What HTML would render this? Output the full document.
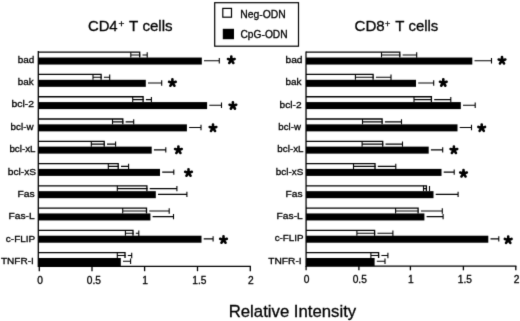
<!DOCTYPE html>
<html><head><meta charset="utf-8"><style>
html,body{margin:0;padding:0;background:#fff;}
svg{display:block;} .w{will-change:transform;width:520px;height:321px;overflow:hidden;}
text{font-family:"Liberation Sans",sans-serif;fill:#000;font-kerning:none;stroke:#000;stroke-width:0.3px;}
</style></head><body>
<div class="w"><svg width="520" height="321" viewBox="0 0 520 321">
<defs><filter id="b" color-interpolation-filters="sRGB" x="0" y="0" width="520" height="321" filterUnits="userSpaceOnUse"><feConvolveMatrix order="3" kernelMatrix="0.0114 0.084 0.0114 0.084 0.618 0.084 0.0114 0.084 0.0114" divisor="1" edgeMode="duplicate" preserveAlpha="true"/></filter></defs>
<g filter="url(#b)">
<rect x="0" y="0" width="520" height="321" fill="#fff"/>
<rect x="214.7" y="2.7" width="83.8" height="43.5" fill="none" stroke="#000" stroke-width="1.2"/>
<rect x="222.8" y="8.4" width="8.7" height="8.8" fill="#fff" stroke="#000" stroke-width="1.2"/>
<rect x="222.8" y="28.8" width="11.2" height="10.4" fill="#000"/>
<text transform="translate(87.90 30.60) scale(0.9717 1)" font-size="15.3px" stroke-width="0.45">CD4</text>
<text transform="translate(118.61 26.90) scale(1.0616 1)" font-size="9.5px" stroke-width="0.45">+</text>
<text transform="translate(128.96 30.60) scale(0.9883 1)" font-size="15.3px" stroke-width="0.45">T cells</text>
<text transform="translate(354.53 30.60) scale(0.9875 1)" font-size="15.3px" stroke-width="0.45">CD8</text>
<text transform="translate(384.97 26.50) scale(0.9316 1)" font-size="9.5px" stroke-width="0.45">+</text>
<text transform="translate(395.16 30.60) scale(0.9767 1)" font-size="15.3px" stroke-width="0.45">T cells</text>
<text transform="translate(240.35 17.70) scale(0.9966 1)" font-size="10.4px">Neg-ODN</text>
<text transform="translate(240.48 37.60) scale(1.0025 1)" font-size="10.2px">CpG-ODN</text>
<text transform="translate(228.73 316.60) scale(1.0095 1)" font-size="16.6px" stroke-width="0.5">Relative Intensity</text>
<path d="M38.30 52.20H139.70V57.55" stroke="#000" stroke-width="1.3" fill="none"/>
<path d="M130.8 55.05H140.3M130.8 52.15V57.55M147.2 52.35V57.75M142.50 55.05H147.2" stroke="#000" stroke-width="1.1" fill="none"/>
<rect x="38.30" y="57.55" width="163.50" height="7.00" fill="#000"/>
<path d="M204.00 60.75H219.3M219.3 58.05V63.45" stroke="#000" stroke-width="1.1" fill="none"/>
<path d="M231.30 60.10L231.30 56.60M231.30 60.10L234.63 59.02M231.30 60.10L233.36 62.93M231.30 60.10L229.24 62.93M231.30 60.10L227.97 59.02" stroke="#000" stroke-width="2.6" stroke-linecap="round" fill="none"/>
<path d="M38.30 74.47H101.10V79.82" stroke="#000" stroke-width="1.3" fill="none"/>
<path d="M93 77.32H101.7M93 74.42V79.82M109.7 74.62V80.02M103.90 77.32H109.7" stroke="#000" stroke-width="1.1" fill="none"/>
<rect x="38.30" y="79.82" width="107.50" height="7.00" fill="#000"/>
<path d="M148.00 83.02H161.7M161.7 80.32V85.72" stroke="#000" stroke-width="1.1" fill="none"/>
<path d="M172.40 82.90L172.40 79.40M172.40 82.90L175.73 81.82M172.40 82.90L174.46 85.73M172.40 82.90L170.34 85.73M172.40 82.90L169.07 81.82" stroke="#000" stroke-width="2.6" stroke-linecap="round" fill="none"/>
<path d="M38.30 96.74H143.10V102.09" stroke="#000" stroke-width="1.3" fill="none"/>
<path d="M132.7 99.59H143.7M132.7 96.69V102.09M151.4 96.89V102.29M145.90 99.59H151.4" stroke="#000" stroke-width="1.1" fill="none"/>
<rect x="38.30" y="102.09" width="168.80" height="7.00" fill="#000"/>
<path d="M209.30 105.29H221.5M221.5 102.59V107.99" stroke="#000" stroke-width="1.1" fill="none"/>
<path d="M232.90 105.80L232.90 102.30M232.90 105.80L236.23 104.72M232.90 105.80L234.96 108.63M232.90 105.80L230.84 108.63M232.90 105.80L229.57 104.72" stroke="#000" stroke-width="2.6" stroke-linecap="round" fill="none"/>
<path d="M38.30 119.01H122.80V124.36" stroke="#000" stroke-width="1.3" fill="none"/>
<path d="M112.5 121.86H123.4M112.5 118.96V124.36M133.7 119.16V124.56M125.60 121.86H133.7" stroke="#000" stroke-width="1.1" fill="none"/>
<rect x="38.30" y="124.36" width="148.60" height="7.00" fill="#000"/>
<path d="M189.10 127.56H201M201 124.86V130.26" stroke="#000" stroke-width="1.1" fill="none"/>
<path d="M213.00 128.10L213.00 124.60M213.00 128.10L216.33 127.02M213.00 128.10L215.06 130.93M213.00 128.10L210.94 130.93M213.00 128.10L209.67 127.02" stroke="#000" stroke-width="2.6" stroke-linecap="round" fill="none"/>
<path d="M38.30 141.28H104.20V146.63" stroke="#000" stroke-width="1.3" fill="none"/>
<path d="M91.3 144.13H104.8M91.3 141.23V146.63M115.6 141.43V146.83M107.00 144.13H115.6" stroke="#000" stroke-width="1.1" fill="none"/>
<rect x="38.30" y="146.63" width="113.40" height="7.00" fill="#000"/>
<path d="M153.90 149.83H165.8M165.8 147.13V152.53" stroke="#000" stroke-width="1.1" fill="none"/>
<path d="M178.40 150.10L178.40 146.60M178.40 150.10L181.73 149.02M178.40 150.10L180.46 152.93M178.40 150.10L176.34 152.93M178.40 150.10L175.07 149.02" stroke="#000" stroke-width="2.6" stroke-linecap="round" fill="none"/>
<path d="M38.30 163.55H118.20V168.90" stroke="#000" stroke-width="1.3" fill="none"/>
<path d="M108.3 166.40H118.8M108.3 163.50V168.90M128.6 163.70V169.10M121.00 166.40H128.6" stroke="#000" stroke-width="1.1" fill="none"/>
<rect x="38.30" y="168.90" width="121.70" height="7.00" fill="#000"/>
<path d="M162.20 172.10H173.8M173.8 169.40V174.80" stroke="#000" stroke-width="1.1" fill="none"/>
<path d="M188.50 172.90L188.50 169.40M188.50 172.90L191.83 171.82M188.50 172.90L190.56 175.73M188.50 172.90L186.44 175.73M188.50 172.90L185.17 171.82" stroke="#000" stroke-width="2.6" stroke-linecap="round" fill="none"/>
<path d="M38.30 185.82H146.90V191.17" stroke="#000" stroke-width="1.3" fill="none"/>
<path d="M117.3 188.67H147.5M117.3 185.77V191.17M176.9 185.97V191.37M149.70 188.67H176.9" stroke="#000" stroke-width="1.1" fill="none"/>
<rect x="38.30" y="191.17" width="117.50" height="7.00" fill="#000"/>
<path d="M158.00 194.37H186.9M186.9 191.67V197.07" stroke="#000" stroke-width="1.1" fill="none"/>
<path d="M38.30 208.09H146.50V213.44" stroke="#000" stroke-width="1.3" fill="none"/>
<path d="M122.7 210.94H147.1M122.7 208.04V213.44M169.2 208.24V213.64M149.30 210.94H169.2" stroke="#000" stroke-width="1.1" fill="none"/>
<rect x="38.30" y="213.44" width="112.10" height="7.00" fill="#000"/>
<path d="M152.60 216.64H173.5M173.5 213.94V219.34" stroke="#000" stroke-width="1.1" fill="none"/>
<path d="M38.30 230.36H133.00V235.71" stroke="#000" stroke-width="1.3" fill="none"/>
<path d="M125.4 233.21H133.6M125.4 230.31V235.71M138.8 230.51V235.91M135.80 233.21H138.8" stroke="#000" stroke-width="1.1" fill="none"/>
<rect x="38.30" y="235.71" width="163.20" height="7.00" fill="#000"/>
<path d="M203.70 238.91H213.1M213.1 236.21V241.61" stroke="#000" stroke-width="1.1" fill="none"/>
<path d="M223.50 239.90L223.50 236.40M223.50 239.90L226.83 238.82M223.50 239.90L225.56 242.73M223.50 239.90L221.44 242.73M223.50 239.90L220.17 238.82" stroke="#000" stroke-width="2.6" stroke-linecap="round" fill="none"/>
<path d="M38.30 252.63H125.00V257.98" stroke="#000" stroke-width="1.3" fill="none"/>
<path d="M117.3 255.48H125.6M117.3 252.58V257.98M131.7 252.78V258.18M127.80 255.48H131.7" stroke="#000" stroke-width="1.1" fill="none"/>
<rect x="38.30" y="257.98" width="82.50" height="8.42" fill="#000"/>
<path d="M123.00 261.18H130.6M130.6 258.48V263.88" stroke="#000" stroke-width="1.1" fill="none"/>
<path d="M38.3 51L38.3 267.0" stroke="#000" stroke-width="1.3" fill="none"/>
<path d="M39.3 266.4V271.2" stroke="#000" stroke-width="1.3" fill="none"/>
<path d="M38.3 266.4H250.9" stroke="#000" stroke-width="1.3" fill="none"/>
<path d="M92 266.4V271.2" stroke="#000" stroke-width="1.3"/>
<path d="M144.6 266.4V271.2" stroke="#000" stroke-width="1.3"/>
<path d="M197.5 266.4V271.2" stroke="#000" stroke-width="1.3"/>
<path d="M250.3 266.4V271.2" stroke="#000" stroke-width="1.3"/>
<text transform="translate(37.26 283.90) scale(1.0200 1)" font-size="10.0px" stroke-width="0.15">0</text>
<text transform="translate(86.73 283.90) scale(1.0200 1)" font-size="10.0px" stroke-width="0.15">0.5</text>
<text transform="translate(142.27 283.90) scale(1.0200 1)" font-size="10.0px" stroke-width="0.15">1</text>
<text transform="translate(192.34 283.90) scale(1.0200 1)" font-size="10.0px" stroke-width="0.15">1.5</text>
<text transform="translate(247.91 283.90) scale(1.0200 1)" font-size="10.0px" stroke-width="0.15">2</text>
<text transform="translate(17.71 62.80) scale(1.0352 1)" font-size="9.6px">bad</text>
<text transform="translate(17.71 84.60) scale(1.0287 1)" font-size="9.6px">bak</text>
<text transform="translate(11.48 107.30) scale(1.0859 1)" font-size="9.6px">bcl-2</text>
<text transform="translate(10.62 129.90) scale(1.0226 1)" font-size="9.6px">bcl-w</text>
<text transform="translate(9.42 151.90) scale(1.0215 1)" font-size="9.6px">bcl-xL</text>
<text transform="translate(7.69 174.70) scale(1.0698 1)" font-size="9.6px">bcl-xS</text>
<text transform="translate(17.50 196.90) scale(1.0761 1)" font-size="9.6px">Fas</text>
<text transform="translate(8.51 218.90) scale(1.0669 1)" font-size="9.6px">Fas-L</text>
<text transform="translate(5.83 241.50) scale(1.0418 1)" font-size="9.6px">c-FLIP</text>
<text transform="translate(0.92 263.80) scale(1.0476 1)" font-size="9.6px">TNFR-I</text>
<path d="M306.00 52.20H399.80V57.55" stroke="#000" stroke-width="1.3" fill="none"/>
<path d="M381.5 55.05H400.4M381.5 52.15V57.55M416.7 52.35V57.75M402.60 55.05H416.7" stroke="#000" stroke-width="1.1" fill="none"/>
<rect x="306.00" y="57.55" width="166.30" height="7.00" fill="#000"/>
<path d="M474.50 60.75H491.5M491.5 58.05V63.45" stroke="#000" stroke-width="1.1" fill="none"/>
<path d="M502.00 60.60L502.00 57.10M502.00 60.60L505.33 59.52M502.00 60.60L504.06 63.43M502.00 60.60L499.94 63.43M502.00 60.60L498.67 59.52" stroke="#000" stroke-width="2.6" stroke-linecap="round" fill="none"/>
<path d="M306.01 74.47H373.10V79.82" stroke="#000" stroke-width="1.3" fill="none"/>
<path d="M355.4 77.32H373.7M355.4 74.42V79.82M391 74.62V80.02M375.90 77.32H391" stroke="#000" stroke-width="1.1" fill="none"/>
<rect x="306.01" y="79.82" width="109.99" height="7.00" fill="#000"/>
<path d="M418.20 83.02H433.7M433.7 80.32V85.72" stroke="#000" stroke-width="1.1" fill="none"/>
<path d="M443.30 82.80L443.30 79.30M443.30 82.80L446.63 81.72M443.30 82.80L445.36 85.63M443.30 82.80L441.24 85.63M443.30 82.80L439.97 81.72" stroke="#000" stroke-width="2.6" stroke-linecap="round" fill="none"/>
<path d="M306.02 96.74H431.40V102.09" stroke="#000" stroke-width="1.3" fill="none"/>
<path d="M414 99.59H432M414 96.69V102.09M450.8 96.89V102.29M434.20 99.59H450.8" stroke="#000" stroke-width="1.1" fill="none"/>
<rect x="306.02" y="102.09" width="154.78" height="7.00" fill="#000"/>
<path d="M463.00 105.29H475.2M475.2 102.59V107.99" stroke="#000" stroke-width="1.1" fill="none"/>
<path d="M306.03 119.01H382.10V124.36" stroke="#000" stroke-width="1.3" fill="none"/>
<path d="M362.5 121.86H382.7M362.5 118.96V124.36M401.5 119.16V124.56M384.90 121.86H401.5" stroke="#000" stroke-width="1.1" fill="none"/>
<rect x="306.03" y="124.36" width="151.47" height="7.00" fill="#000"/>
<path d="M459.70 127.56H471.5M471.5 124.86V130.26" stroke="#000" stroke-width="1.1" fill="none"/>
<path d="M481.70 128.00L481.70 124.50M481.70 128.00L485.03 126.92M481.70 128.00L483.76 130.83M481.70 128.00L479.64 130.83M481.70 128.00L478.37 126.92" stroke="#000" stroke-width="2.6" stroke-linecap="round" fill="none"/>
<path d="M306.04 141.28H382.70V146.63" stroke="#000" stroke-width="1.3" fill="none"/>
<path d="M362.1 144.13H383.3M362.1 141.23V146.63M402.5 141.43V146.83M385.50 144.13H402.5" stroke="#000" stroke-width="1.1" fill="none"/>
<rect x="306.04" y="146.63" width="122.66" height="7.00" fill="#000"/>
<path d="M430.90 149.83H442.7M442.7 147.13V152.53" stroke="#000" stroke-width="1.1" fill="none"/>
<path d="M453.90 150.10L453.90 146.60M453.90 150.10L457.23 149.02M453.90 150.10L455.96 152.93M453.90 150.10L451.84 152.93M453.90 150.10L450.57 149.02" stroke="#000" stroke-width="2.6" stroke-linecap="round" fill="none"/>
<path d="M306.05 163.55H375.00V168.90" stroke="#000" stroke-width="1.3" fill="none"/>
<path d="M353.5 166.40H375.6M353.5 163.50V168.90M395.8 163.70V169.10M377.80 166.40H395.8" stroke="#000" stroke-width="1.1" fill="none"/>
<rect x="306.05" y="168.90" width="135.45" height="7.00" fill="#000"/>
<path d="M443.70 172.10H454.2M454.2 169.40V174.80" stroke="#000" stroke-width="1.1" fill="none"/>
<path d="M463.50 173.60L463.50 170.10M463.50 173.60L466.83 172.52M463.50 173.60L465.56 176.43M463.50 173.60L461.44 176.43M463.50 173.60L460.17 172.52" stroke="#000" stroke-width="2.6" stroke-linecap="round" fill="none"/>
<path d="M306.06 185.82H426.40V191.17" stroke="#000" stroke-width="1.3" fill="none"/>
<path d="M423.5 188.67H427M423.5 185.77V191.17M429.5 185.97V191.37" stroke="#000" stroke-width="1.1" fill="none"/>
<rect x="306.06" y="191.17" width="127.44" height="7.00" fill="#000"/>
<path d="M435.70 194.37H458.1M458.1 191.67V197.07" stroke="#000" stroke-width="1.1" fill="none"/>
<path d="M306.07 208.09H418.10V213.44" stroke="#000" stroke-width="1.3" fill="none"/>
<path d="M395.6 210.94H418.7M395.6 208.04V213.44M442.3 208.24V213.64M420.90 210.94H442.3" stroke="#000" stroke-width="1.1" fill="none"/>
<rect x="306.07" y="213.44" width="118.33" height="7.00" fill="#000"/>
<path d="M426.60 216.64H443.1M443.1 213.94V219.34" stroke="#000" stroke-width="1.1" fill="none"/>
<path d="M306.08 230.36H374.60V235.71" stroke="#000" stroke-width="1.3" fill="none"/>
<path d="M356.9 233.21H375.2M356.9 230.31V235.71M392.9 230.51V235.91M377.40 233.21H392.9" stroke="#000" stroke-width="1.1" fill="none"/>
<rect x="306.08" y="235.71" width="182.22" height="7.00" fill="#000"/>
<path d="M490.50 238.91H498.8M498.8 236.21V241.61" stroke="#000" stroke-width="1.1" fill="none"/>
<path d="M508.20 240.00L508.20 236.50M508.20 240.00L511.53 238.92M508.20 240.00L510.26 242.83M508.20 240.00L506.14 242.83M508.20 240.00L504.87 238.92" stroke="#000" stroke-width="2.6" stroke-linecap="round" fill="none"/>
<path d="M306.09 252.63H378.60V257.98" stroke="#000" stroke-width="1.3" fill="none"/>
<path d="M370.9 255.48H379.2M370.9 252.58V257.98M387.9 252.78V258.18M381.40 255.48H387.9" stroke="#000" stroke-width="1.1" fill="none"/>
<rect x="306.09" y="257.98" width="68.51" height="8.12" fill="#000"/>
<path d="M376.80 261.18H385M385 258.48V263.88" stroke="#000" stroke-width="1.1" fill="none"/>
<path d="M306 51.5L306.1 266.70000000000005" stroke="#000" stroke-width="1.3" fill="none"/>
<path d="M306.1 266.1V270.3" stroke="#000" stroke-width="1.3" fill="none"/>
<path d="M306.1 266.1H516.4" stroke="#000" stroke-width="1.3" fill="none"/>
<path d="M358.9 266.1V270.3" stroke="#000" stroke-width="1.3"/>
<path d="M410.4 266.1V270.3" stroke="#000" stroke-width="1.3"/>
<path d="M463.4 266.1V270.3" stroke="#000" stroke-width="1.3"/>
<path d="M515.8 266.1V270.3" stroke="#000" stroke-width="1.3"/>
<text transform="translate(303.86 283.30) scale(1.0200 1)" font-size="10.0px" stroke-width="0.15">0</text>
<text transform="translate(352.68 283.30) scale(1.0200 1)" font-size="10.0px" stroke-width="0.15">0.5</text>
<text transform="translate(408.02 283.30) scale(1.0200 1)" font-size="10.0px" stroke-width="0.15">1</text>
<text transform="translate(457.74 283.30) scale(1.0200 1)" font-size="10.0px" stroke-width="0.15">1.5</text>
<text transform="translate(513.86 283.30) scale(1.0200 1)" font-size="10.0px" stroke-width="0.15">2</text>
<text transform="translate(285.49 62.60) scale(1.0623 1)" font-size="9.6px">bad</text>
<text transform="translate(285.51 85.00) scale(1.0354 1)" font-size="9.6px">bak</text>
<text transform="translate(279.60 107.50) scale(1.0555 1)" font-size="9.6px">bcl-2</text>
<text transform="translate(278.33 130.30) scale(1.0089 1)" font-size="9.6px">bcl-w</text>
<text transform="translate(277.32 152.30) scale(1.0255 1)" font-size="9.6px">bcl-xL</text>
<text transform="translate(275.81 174.50) scale(1.0307 1)" font-size="9.6px">bcl-xS</text>
<text transform="translate(285.61 197.30) scale(1.0626 1)" font-size="9.6px">Fas</text>
<text transform="translate(276.61 219.30) scale(1.0669 1)" font-size="9.6px">Fas-L</text>
<text transform="translate(274.63 241.30) scale(1.0235 1)" font-size="9.6px">c-FLIP</text>
<text transform="translate(268.22 264.00) scale(1.0640 1)" font-size="9.6px">TNFR-I</text>
</g>
</svg></div>
</body></html>
